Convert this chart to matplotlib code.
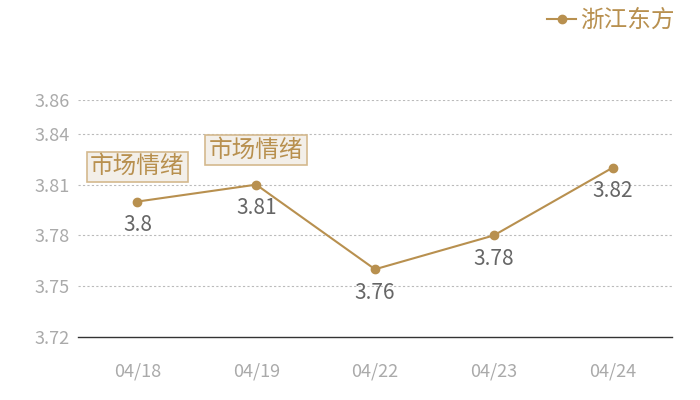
import numpy as np
from matplotlib import pyplot as plt

plt.rcParams['font.family'] = ['Noto Sans CJK SC', 'DejaVu Sans']

#==============================================================#
dates = ["04/18", "04/19", "04/22", "04/23", "04/24"]
values = [3.80, 3.81, 3.76, 3.78, 3.82]
y_ticks = [3.72, 3.75, 3.78, 3.81, 3.84, 3.86]
series_name = "浙江东方"
note_text = "市场情绪"
note_idx = [0, 1]

LINE_C = "#b8904f"
TICK_C = "#aaaaaa"
LABEL_C = "#666666"

#==============================================================#
fig = plt.figure(figsize=(7, 4), dpi=100)
ax = fig.add_axes([78 / 700, 1 - 337 / 400, 594 / 700, 237 / 400])

x = np.arange(len(dates))
ax.plot(x, values, color=LINE_C, lw=1.5, marker="o", ms=6, label=series_name, zorder=3)

ax.set_xlim(-0.5, len(dates) - 0.5)
ax.set_ylim(3.72, 3.86)
ax.set_yticks(y_ticks)
ax.set_yticklabels([f"{v:.2f}" for v in y_ticks])
ax.set_xticks(x)
ax.set_xticklabels(dates)
ax.tick_params(axis="both", length=0, colors=TICK_C, labelsize=13)
ax.tick_params(axis="y", pad=6)
ax.tick_params(axis="x", pad=18)

# 点線グリッド
for t in y_ticks[1:]:
    ax.axhline(t, color="#bbbbbb", lw=0.8, ls=(0, (2, 2)), zorder=1)

for s in ["top", "right", "left"]:
    ax.spines[s].set_visible(False)
ax.spines["bottom"].set_color("#333333")
ax.spines["bottom"].set_linewidth(1.0)

# データラベル
for xi, v in zip(x, values):
    ax.annotate(f"{v:g}", (xi, v), xytext=(0, -17), textcoords="offset points",
                ha="center", va="center", color=LABEL_C, fontsize=15)

# 注記ボックス
for i in note_idx:
    ax.annotate(note_text, (x[i], values[i]), xytext=(0, 25), textcoords="offset points",
                ha="center", va="center", color=LINE_C, fontsize=17,
                bbox=dict(boxstyle="square,pad=0.15", fc="#f3efe9", ec="#d4b98e", lw=1.2),
                zorder=4)

leg = ax.legend(loc="upper right", bbox_to_anchor=(682 / 700, 1 - 2 / 400),
                bbox_transform=fig.transFigure,
                frameon=False, fontsize=17, handlelength=1.2, handletextpad=0.2,
                borderaxespad=0.0, borderpad=0.3)
for t in leg.get_texts():
    t.set_color(LINE_C)

fig.savefig("out.png", dpi=100)
